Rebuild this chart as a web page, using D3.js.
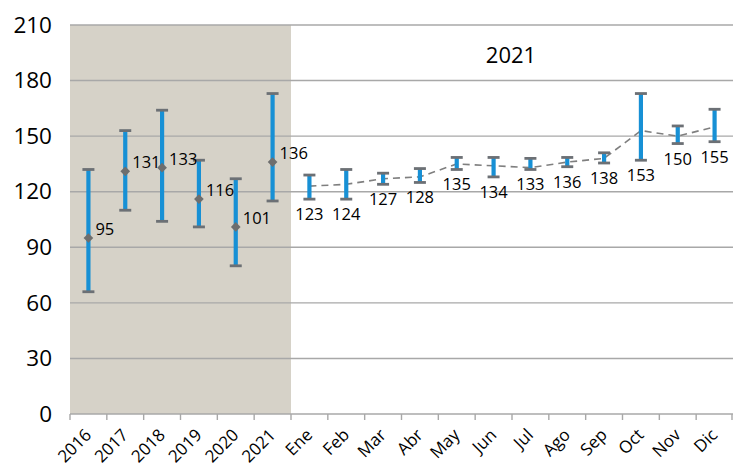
<!DOCTYPE html>
<html>
<head>
<meta charset="utf-8">
<script src="https://cdn.jsdelivr.net/npm/d3@7"></script>
<style>
  html, body { margin: 0; padding: 0; background: #fff; }
  svg { display: block; font-family: "Open Sans", "Noto Sans", sans-serif; }
</style>
</head>
<body>
<svg id="chart" width="733" height="468"></svg>
<script>
// ---- data ----
const years = ["2016", "2017", "2018", "2019", "2020", "2021"];
const yearValues = [95, 131, 133, 116, 101, 136];
const yearLow = [66, 110, 104, 101, 80, 115];
const yearHigh = [132, 153, 164, 137, 127, 173];

const months = ["Ene", "Feb", "Mar", "Abr", "May", "Jun", "Jul", "Ago", "Sep", "Oct", "Nov", "Dic"];
const monthValues = [123, 124, 127, 128, 135, 134, 133, 136, 138, 153, 150, 155];
const monthLow = [116, 116, 124, 125, 132, 128, 132, 133.5, 135.5, 137, 146, 147];
const monthHigh = [129, 132, 130, 132.5, 138.5, 138.5, 138, 138.5, 141, 173, 155.5, 164.5];

const yTicks = [0, 30, 60, 90, 120, 150, 180, 210];
const title = "2021";

// ---- layout ----
const svg = d3.select("#chart");
const L = 70, R = 733, T = 25, B = 414;
const categories = years.concat(months);

const x = d3.scaleBand().domain(categories).range([L, R]).padding(0);
const y = d3.scaleLinear().domain([0, 210]).range([B, T]);
const cx = c => x(c) + x.bandwidth() / 2;

// shaded region behind the yearly categories
svg.append("rect")
  .attr("x", x(years[0]))
  .attr("y", y(210))
  .attr("width", x(years[years.length - 1]) + x.bandwidth() - x(years[0]))
  .attr("height", y(0) - y(210))
  .attr("fill", "#d6d2c8");

// gridlines
svg.append("g").selectAll("line").data(yTicks.filter(d => d > 0)).join("line")
  .attr("x1", L).attr("x2", R)
  .attr("y1", d => y(d)).attr("y2", d => y(d))
  .attr("stroke", "#a8a8a8").attr("stroke-width", 1.4);

// y axis labels
const yAxis = d3.axisLeft(y).tickValues(yTicks).tickSize(0).tickPadding(18);
const gy = svg.append("g").attr("transform", `translate(${L},0)`).call(yAxis);
gy.select(".domain").remove();
gy.selectAll("text")
  .attr("font-size", "22.5px")
  .attr("fill", "#000")
  .attr("font-family", "'Open Sans', 'Noto Sans', sans-serif");

// x axis line & ticks at band boundaries
svg.append("line")
  .attr("x1", L).attr("x2", R).attr("y1", B).attr("y2", B)
  .attr("stroke", "#a8a8a8").attr("stroke-width", 1.6);
const boundaries = categories.map(c => x(c)).concat([x(categories[categories.length - 1]) + x.bandwidth()]);
svg.append("g").selectAll("line").data(boundaries).join("line")
  .attr("x1", d => Math.min(d, R - 1)).attr("x2", d => Math.min(d, R - 1))
  .attr("y1", B).attr("y2", B + 6)
  .attr("stroke", "#a8a8a8").attr("stroke-width", 1.4);

// x labels rotated
svg.append("g").selectAll("text").data(categories).join("text")
  .attr("transform", d => `translate(${cx(d) + 4},${B + 22}) rotate(-45)`)
  .attr("text-anchor", "end")
  .attr("font-size", "17px")
  .attr("fill", "#000")
  .text(d => d);

// dashed line through monthly values
const line = d3.line().x(d => cx(d.c)).y(d => y(d.v));
svg.append("path")
  .datum(months.map((c, i) => ({ c, v: monthValues[i] })))
  .attr("d", line)
  .attr("fill", "none")
  .attr("stroke", "#7f7f7f")
  .attr("stroke-width", 1.6)
  .attr("stroke-dasharray", "7,5");

// error bars
const bars = years.map((c, i) => ({ c, lo: yearLow[i], hi: yearHigh[i] }))
  .concat(months.map((c, i) => ({ c, lo: monthLow[i], hi: monthHigh[i] })));
const gb = svg.append("g");
gb.selectAll("line.bar").data(bars).join("line")
  .attr("class", "bar")
  .attr("x1", d => cx(d.c)).attr("x2", d => cx(d.c))
  .attr("y1", d => y(d.hi)).attr("y2", d => y(d.lo))
  .attr("stroke", "#1790d5").attr("stroke-width", 4.2);
const capW = 12;
["lo", "hi"].forEach(k => {
  gb.selectAll("line.cap" + k).data(bars).join("line")
    .attr("class", "cap" + k)
    .attr("x1", d => cx(d.c) - capW / 2).attr("x2", d => cx(d.c) + capW / 2)
    .attr("y1", d => y(d[k])).attr("y2", d => y(d[k]))
    .attr("stroke", "#6c7075").attr("stroke-width", 2.8);
});

// yearly diamond markers
const diamond = d3.symbol().type(d3.symbolDiamond2).size(60);
svg.append("g").selectAll("path").data(years.map((c, i) => ({ c, v: yearValues[i] }))).join("path")
  .attr("transform", d => `translate(${cx(d.c)},${y(d.v)})`)
  .attr("d", diamond)
  .attr("fill", "#6e6e6e");

// yearly labels (right of point)
svg.append("g").selectAll("text").data(years.map((c, i) => ({ c, v: yearValues[i] }))).join("text")
  .attr("x", d => cx(d.c) + 7)
  .attr("y", d => y(d.v) - 3)
  .attr("font-size", "16.5px")
  .attr("fill", "#000")
  .text(d => d.v);

// monthly labels (below the error bar)
svg.append("g").selectAll("text").data(months.map((c, i) => ({ c, v: monthValues[i], lo: monthLow[i] }))).join("text")
  .attr("x", d => cx(d.c))
  .attr("y", d => y(d.lo) + 21)
  .attr("text-anchor", "middle")
  .attr("font-size", "16.5px")
  .attr("fill", "#000")
  .text(d => d.v);

// title
svg.append("text")
  .attr("x", 511).attr("y", 63)
  .attr("text-anchor", "middle")
  .attr("font-size", "22px")
  .attr("fill", "#000")
  .text(title);
</script>
</body>
</html>
